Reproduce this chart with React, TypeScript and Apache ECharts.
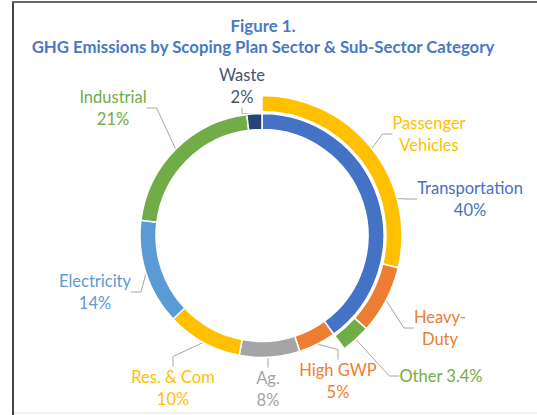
import React, { useEffect, useRef } from "react";
import * as echarts from "echarts";

const titleLines = ["Figure 1.", "GHG Emissions by Scoping Plan Sector & Sub-Sector Category"];

const sectorNames = ["Transportation", "High GWP", "Ag.", "Res. & Com", "Electricity", "Industrial", "Waste"];
const sectorValues = [40, 5, 8, 10, 14, 21, 2];
const sectorColors = ["#4472C4", "#ED7D31", "#A5A5A5", "#FFC000", "#5B9BD5", "#70AD47", "#264478"];
const sectorLabelColors = ["#4472C4", "#ED7D31", "#A5A5A5", "#FFC000", "#5B9BD5", "#70AD47", "#44546A"];

const subNames = ["Passenger Vehicles", "Heavy-Duty", "Other"];
const subLabels = ["Passenger\nVehicles", "Heavy-\nDuty", "Other 3.4%"];
const subValues = [28.7, 7.9, 3.4];
const subColors = ["#FFC000", "#ED7D31", "#70AD47"];
const subRemainder = 60;

// label block centres (layout only)
const sectorLabelPos = [
  [470, 199], [338, 381], [268, 389], [173, 388], [95, 292], [113, 108], [242, 86],
];
const subLabelPos = [[429, 134], [440, 328], [441, 376]];

export default function App() {
  const ref = useRef<HTMLDivElement>(null);
  useEffect(() => {
    const chart = echarts.init(ref.current!, undefined, { renderer: "svg" });
    const font = "Lato, 'Open Sans', sans-serif";
    const labelBase = { fontFamily: font, fontSize: 16.5, lineHeight: 21.5 };
    const option: any = {
      animation: false,
      backgroundColor: "#ffffff",
      title: {
        text: titleLines.join("\n"),
        left: 258,
        textAlign: "center",
        top: 10,
        textStyle: { fontFamily: font, fontWeight: "bold", fontSize: 16.8, lineHeight: 21, color: "#4A78C2" },
      },
      graphic: [
        { type: "line", shape: { x1: 13, y1: 2, x2: 13, y2: 415 }, style: { stroke: "#444", lineWidth: 2 } },
        { type: "line", shape: { x1: 12, y1: 2, x2: 537, y2: 2 }, style: { stroke: "#666", lineWidth: 2 } },
        { type: "line", shape: { x1: 14, y1: 413, x2: 537, y2: 413 }, style: { stroke: "#e2e2e2", lineWidth: 1 } },
      ],
      series: [
        {
          type: "pie",
          center: [262, 235.5],
          radius: [106, 122],
          startAngle: 90,
          clockwise: true,
          avoidLabelOverlap: false,
          silent: true,
          itemStyle: { borderColor: "#ffffff", borderWidth: 1.5 },
          label: { show: true, position: "outside", ...labelBase },
          labelLine: { show: true, length: 10, length2: 10, lineStyle: { color: "#A6A6A6", width: 1 } },
          labelLayout: (p: any) => {
            const pos = sectorLabelPos[p.dataIndex];
            return { x: pos[0], y: pos[1], align: "center", verticalAlign: "middle" };
          },
          data: sectorNames.map((n, i) => ({
            name: n,
            value: sectorValues[i],
            itemStyle: { color: sectorColors[i] },
            label: { formatter: `${n}\n${sectorValues[i]}%`, color: sectorLabelColors[i] },
          })),
        },
        {
          type: "pie",
          center: [262, 235.5],
          radius: [124, 140],
          startAngle: 90,
          clockwise: true,
          avoidLabelOverlap: false,
          silent: true,
          itemStyle: { borderColor: "#ffffff", borderWidth: 1.5 },
          label: { show: true, position: "outside", ...labelBase },
          labelLine: { show: true, length: 10, length2: 10, lineStyle: { color: "#A6A6A6", width: 1 } },
          labelLayout: (p: any) => {
            const pos = subLabelPos[p.dataIndex];
            if (!pos) return {};
            return { x: pos[0], y: pos[1], align: "center", verticalAlign: "middle" };
          },
          data: [
            ...subNames.map((n, i) => ({
              name: n,
              value: subValues[i],
              itemStyle: { color: subColors[i] },
              label: { formatter: subLabels[i], color: subColors[i] },
            })),
            {
              name: "rest",
              value: subRemainder,
              itemStyle: { color: "rgba(0,0,0,0)", borderWidth: 0 },
              label: { show: false },
              labelLine: { show: false },
            },
          ],
        },
      ],
    };
    chart.setOption(option);
    return () => chart.dispose();
  }, []);
  return (
    <div
      ref={ref}
      style={{ position: "fixed", left: 0, top: 0, width: 537, height: 415 }}
    />
  );
}
